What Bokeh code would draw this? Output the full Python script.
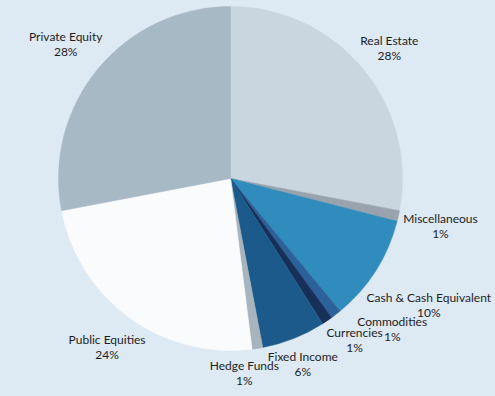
import numpy as np
from bokeh.plotting import figure
from bokeh.models import ColumnDataSource, Range1d
from bokeh.core.properties import value
from bokeh.embed import file_html
from bokeh.resources import INLINE

# ---- data ----
categories = ["Real Estate", "Miscellaneous", "Cash & Cash Equivalent", "Commodities",
              "Currencies", "Fixed Income", "Hedge Funds", "Public Equities", "Private Equity"]
shares = [28, 1, 10, 1, 1, 6, 1, 24, 28]
pct_labels = ["28%", "1%", "10%", "1%", "1%", "6%", "1%", "24%", "28%"]

# ---- styles / positions ----
colors = ["#c9d6df", "#99a3ae", "#2f8cbd", "#2d6199", "#16305a",
          "#1b5a8b", "#a7b4bd", "#fafbfc", "#a8b9c6"]
bg = "#dde9f3"
# pixel nudges of each label block away from its default spot
nudge_x = [-3, 5, 21, 33, 6, -5, -19, 0, -3]
nudge_y = [3, 2, 14, -15, -12, -10, -13, -1, -1]

px_per_unit = 172.0
W, H = 495, 396
cx_px, cy_px = 230.0, 178.0   # pie centre inside the canvas (pixels)

vals = np.array(shares, dtype=float)
frac = vals / vals.sum()
cum_after = np.cumsum(frac)
cum_before = cum_after - frac
start = np.pi / 2 - 2 * np.pi * cum_before
end = np.pi / 2 - 2 * np.pi * cum_after
mid = (start + end) / 2

label_r = 210.0 / px_per_unit
lx = label_r * np.cos(mid)
ly = label_r * np.sin(mid)

src = ColumnDataSource(dict(
    cat=categories, pct=pct_labels, start=start, end=end, color=colors,
    lx=lx, ly=ly,
    nx=nudge_x,
    ny_name=[v - 7.5 for v in nudge_y],
    ny_pct=[v + 7.5 for v in nudge_y],
))

p = figure(width=W, height=H, output_backend="svg", toolbar_location=None,
           x_axis_location=None, y_axis_location=None,
           x_range=Range1d(-cx_px / px_per_unit, (W - cx_px) / px_per_unit),
           y_range=Range1d(-(H - cy_px) / px_per_unit, cy_px / px_per_unit),
           min_border=0, outline_line_color=None,
           background_fill_color=bg, border_fill_color=bg)
p.grid.visible = False

p.wedge(x=0, y=0, radius=1.0, start_angle="start", end_angle="end",
        direction="clock", fill_color="color", line_color="color", line_width=0.5,
        source=src)

common = dict(text_align="center", text_baseline="middle",
              text_font=value("Lato"), text_font_size="12px", text_color="#1e1e1e")
p.text(x="lx", y="ly", text="cat", x_offset="nx", y_offset="ny_name", source=src, **common)
p.text(x="lx", y="ly", text="pct", x_offset="nx", y_offset="ny_pct", source=src, **common)

html = file_html(p, INLINE)
html = html.replace("</head>", "<style>html,body{background:%s;}</style></head>" % bg, 1)
open("out.html", "w").write(html)
